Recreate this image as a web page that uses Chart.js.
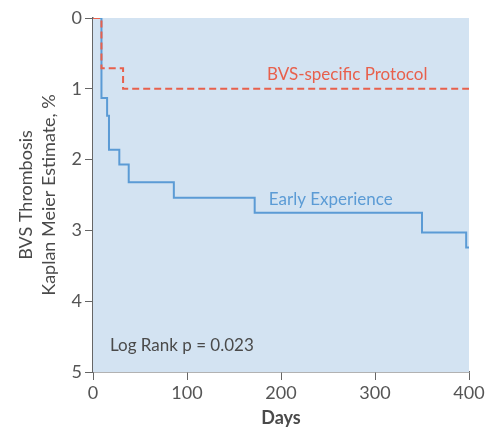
<!DOCTYPE html>
<html lang="en">
<head>
    <meta charset="UTF-8">
    <title>BVS Thrombosis</title>
    <script src="https://cdn.jsdelivr.net/npm/chart.js"></script>
    <style>
        html, body { margin: 0; padding: 0; background: #fff; }
        #wrap { width: 489px; height: 429px; }
    </style>
</head>
<body>
    <div id="wrap"><canvas id="kmChart" width="489" height="429"></canvas></div>
    <script>
        // Kaplan-Meier steps (days, estimate %)
        const earlyDays = [0, 9, 15, 17, 28, 38, 86, 172, 350, 397, 400];
        const earlyRisk = [0, 1.13, 1.38, 1.86, 2.07, 2.32, 2.54, 2.75, 3.03, 3.24, 3.24];
        const protoDays = [0, 9, 32, 400];
        const protoRisk = [0, 0.71, 1.0, 1.0];

        const xTicks = [0, 100, 200, 300, 400];
        const yTicks = [0, 1, 2, 3, 4, 5];

        const toPoints = (xs, ys) => xs.map((x, i) => ({ x: x, y: ys[i] }));

        const FONT = "Lato, 'Open Sans', sans-serif";
        const textColor = "#4a4a4a";
        const axisColor = "#666666";
        const blue = "#5b9bd5";
        const red = "#e8604c";

        // plot background + text labels inside the plot
        const decor = {
            id: "decor",
            beforeDatasetsDraw(chart) {
                const { ctx, chartArea: a } = chart;
                ctx.save();
                ctx.fillStyle = "#d3e3f2";
                ctx.fillRect(a.left, a.top, a.right - a.left, a.bottom - a.top);
                ctx.restore();
            },
            afterDatasetsDraw(chart) {
                const { ctx, scales } = chart;
                const labels = [
                    { text: "BVS-specific Protocol", x: 185, y: 0.80, color: red },
                    { text: "Early Experience", x: 187, y: 2.57, color: blue },
                    { text: "Log Rank p = 0.023", x: 18, y: 4.63, color: textColor }
                ];
                ctx.save();
                ctx.font = "17px " + FONT;
                ctx.textBaseline = "middle";
                labels.forEach(l => {
                    ctx.fillStyle = l.color;
                    ctx.fillText(l.text, scales.x.getPixelForValue(l.x), scales.y.getPixelForValue(l.y));
                });
                ctx.restore();
            }
        };

        new Chart(document.getElementById("kmChart"), {
            type: "line",
            data: {
                datasets: [
                    {
                        label: "BVS-specific Protocol",
                        data: toPoints(protoDays, protoRisk),
                        borderColor: red,
                        borderWidth: 2,
                        borderDash: [7, 4],
                        stepped: "before",
                        pointRadius: 0,
                        fill: false
                    },
                    {
                        label: "Early Experience",
                        data: toPoints(earlyDays, earlyRisk),
                        borderColor: blue,
                        borderWidth: 2,
                        stepped: "before",
                        pointRadius: 0,
                        fill: false
                    }
                ]
            },
            options: {
                responsive: false,
                animation: false,
                layout: { padding: { top: 18, right: 20, left: 15, bottom: 0 } },
                plugins: {
                    legend: { display: false },
                    tooltip: { enabled: false }
                },
                scales: {
                    x: {
                        type: "linear",
                        min: 0,
                        max: 400,
                        afterBuildTicks(s) { s.ticks = xTicks.map(v => ({ value: v })); },
                        afterFit(s) { s.height = 57; },
                        grid: { drawOnChartArea: false, drawTicks: true, tickLength: 8, color: axisColor },
                        border: { color: axisColor, width: 1.5 },
                        ticks: { color: "#555", padding: 2, font: { family: FONT, size: 18 } },
                        title: {
                            display: true,
                            text: "Days",
                            color: textColor,
                            padding: { top: 0, bottom: 0 },
                            font: { family: FONT, size: 18, weight: "bold" }
                        }
                    },
                    y: {
                        type: "linear",
                        reverse: true,
                        min: 0,
                        max: 5,
                        afterBuildTicks(s) { s.ticks = yTicks.map(v => ({ value: v })); },
                        afterFit(s) { s.width = 78; },
                        grid: { drawOnChartArea: false, drawTicks: true, tickLength: 8, color: axisColor },
                        border: { color: axisColor, width: 1.5 },
                        ticks: { color: "#555", padding: 3, font: { family: FONT, size: 18 } },
                        title: {
                            display: true,
                            text: ["BVS Thrombosis", "Kaplan Meier Estimate, %"],
                            color: textColor,
                            padding: { top: 0, bottom: 4 },
                            font: { family: FONT, size: 18, lineHeight: 1.25 }
                        }
                    }
                }
            },
            plugins: [decor]
        });
    </script>
</body>
</html>
